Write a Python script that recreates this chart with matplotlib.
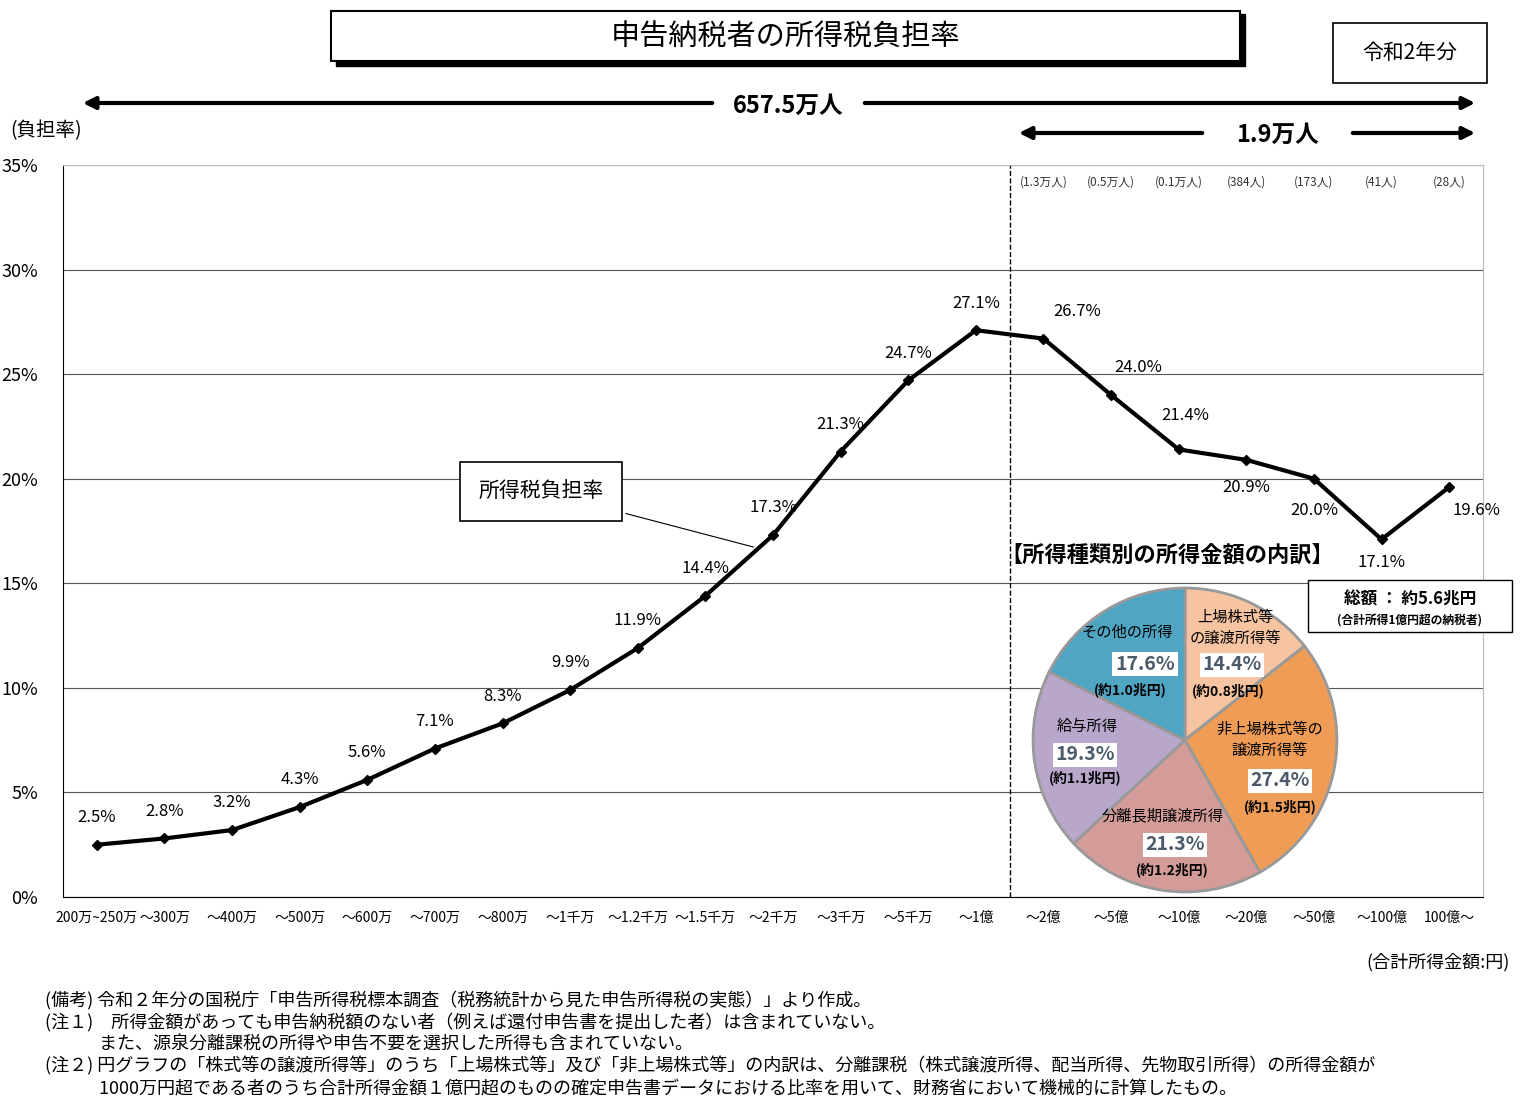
import matplotlib.pyplot as plt
from matplotlib.patches import Rectangle, FancyArrowPatch

plt.rcParams['font.family'] = ['Noto Sans CJK JP']

W, H = 1522, 1109

categories = ['200万~250万', '～300万', '～400万', '～500万', '～600万', '～700万', '～800万',
              '～1千万', '～1.2千万', '～1.5千万', '～2千万', '～3千万', '～5千万', '～1億',
              '～2億', '～5億', '～10億', '～20億', '～50億', '～100億', '100億～']
burden_rate = [2.5, 2.8, 3.2, 4.3, 5.6, 7.1, 8.3, 9.9, 11.9, 14.4, 17.3, 21.3, 24.7, 27.1,
               26.7, 24.0, 21.4, 20.9, 20.0, 17.1, 19.6]
counts = ['(1.3万人)', '(0.5万人)', '(0.1万人)', '(384人)', '(173人)', '(41人)', '(28人)']

pie_labels = ['上場株式等\nの譲渡所得等', '非上場株式等の\n譲渡所得等', '分離長期譲渡所得', '給与所得', 'その他の所得']
pie_shares = [14.4, 27.4, 21.3, 19.3, 17.6]
pie_amounts = ['(約0.8兆円)', '(約1.5兆円)', '(約1.2兆円)', '(約1.1兆円)', '(約1.0兆円)']
pie_colors = ['#F6C4A0', '#EE9C56', '#D39C98', '#B8A7CB', '#4FA5C2']


def fx(x):
    return x / W


def fy(y):
    return 1 - y / H


fig = plt.figure(figsize=(15.22, 11.09), dpi=100)
ax = fig.add_axes([fx(63), fy(897), (1483 - 63) / W, (897 - 165) / H])

x = list(range(len(categories)))
ax.plot(x, burden_rate, '-D', color='black', linewidth=3, markersize=5)
ax.set_xlim(-0.5, len(categories) - 0.5)
ax.set_ylim(0, 35)
ax.set_yticks(range(0, 36, 5))
ax.set_yticklabels([f'{v}%' for v in range(0, 36, 5)], fontsize=13)
ax.set_xticks(x)
ax.set_xticklabels(categories, fontsize=10)
ax.tick_params(axis='x', length=0, pad=10)
ax.tick_params(axis='y', length=0, pad=18)
ax.grid(axis='y', color='#555555', linewidth=0.8)
for s in ['top', 'right']:
    ax.spines[s].set_color('#bbbbbb')
ax.axvline(13.5, color='black', linestyle='--', linewidth=1)

offsets = {14: (0.5, 1.3), 15: (0.4, 1.3), 16: (0.1, 1.6), 17: (0, -1.3), 18: (0, -1.5),
           19: (0, -1.1), 20: (0.4, -1.1)}
for i, v in enumerate(burden_rate):
    dx, dy = offsets.get(i, (0, 1.3))
    ax.text(i + dx, v + dy, f'{v}%', ha='center', va='center', fontsize=12, zorder=5)

for i, c in enumerate(counts):
    ax.text(14 + i, 34.2, c, ha='center', va='center', fontsize=8.5, color='#333333')

# series label box
ax.annotate('所得税負担率', xy=(9.75, 16.7), xytext=(6.57, 19.4), fontsize=15,
            ha='center', va='center',
            bbox=dict(boxstyle='square,pad=0.9', fc='white', ec='black', lw=1.2),
            arrowprops=dict(arrowstyle='-', color='black', lw=0.8))

# title box
fig.patches.append(Rectangle((fx(336), fy(66)), (1245 - 336) / W, 52 / H, transform=fig.transFigure,
                             fc='black', ec='black'))
fig.patches.append(Rectangle((fx(331), fy(61)), (1240 - 331) / W, 50 / H, transform=fig.transFigure,
                             fc='white', ec='black', lw=1.5))
fig.text(fx(786), fy(37), '申告納税者の所得税負担率', fontsize=21, ha='center', va='center')
fig.patches.append(Rectangle((fx(1333), fy(83)), 154 / W, 60 / H, transform=fig.transFigure,
                             fc='white', ec='black', lw=1.2))
fig.text(fx(1410), fy(53), '令和2年分', fontsize=15, ha='center', va='center')

# population arrows
def arrow(x0, x1, y):
    fig.patches.append(FancyArrowPatch((fx(x0), fy(y)), (fx(x1), fy(y)), transform=fig.transFigure,
                                       arrowstyle='-|>', mutation_scale=18, lw=3, color='black'))

arrow(715, 80, 103)
arrow(862, 1478, 103)
fig.text(fx(788), fy(106), '657.5万人', fontsize=17, fontweight='bold', ha='center', va='center')
arrow(1205, 1016, 133)
arrow(1350, 1478, 133)
fig.text(fx(1277), fy(135), '1.9万人', fontsize=17, fontweight='bold', ha='center', va='center')

fig.text(fx(10), fy(131), '(負担率)', fontsize=14, ha='left', va='center')
fig.text(fx(1510), fy(962), '(合計所得金額:円)', fontsize=13, ha='right', va='center')

# pie chart
pax = fig.add_axes([fx(1030), fy(895), 310 / W, 310 / H])
pax.pie(pie_shares, colors=pie_colors, startangle=90, counterclock=False,
        wedgeprops=dict(edgecolor='#999999', linewidth=2))
pax.set_xlim(-1.02, 1.02)
pax.set_ylim(-1.02, 1.02)
pax.set_aspect('equal')

fig.text(fx(1167), fy(556), '【所得種類別の所得金額の内訳】', fontsize=16, fontweight='bold',
         ha='center', va='center')
fig.patches.append(Rectangle((fx(1308), fy(632)), 204 / W, 52 / H, transform=fig.transFigure,
                             fc='white', ec='black', lw=1))
fig.text(fx(1410), fy(600), '総額 ： 約5.6兆円', fontsize=12, fontweight='bold', ha='center', va='center')
fig.text(fx(1410), fy(620), '(合計所得1億円超の納税者)', fontsize=8.5, fontweight='bold', ha='center', va='center')

label_pos = [(1235, 628, 1232, 665, 1228, 691),
             (1270, 740, 1280, 781, 1280, 807),
             (1163, 816, 1175, 845, 1172, 870),
             (1087, 726, 1085, 755, 1085, 778),
             (1127, 632, 1145, 664, 1130, 690)]
for (lx, ly, px, py, ax_, ay), lab, sh, amt in zip(label_pos, pie_labels, pie_shares, pie_amounts):
    fig.text(fx(lx), fy(ly), lab, fontsize=11, ha='center', va='center', linespacing=1.3)
    fig.text(fx(px), fy(py), f'{sh}%', fontsize=14, fontweight='bold', color='#4a5a6a',
             ha='center', va='center', bbox=dict(fc='white', ec='none', pad=2))
    fig.text(fx(ax_), fy(ay), amt, fontsize=10, fontweight='bold', ha='center', va='center')

notes = ['(備考) 令和２年分の国税庁「申告所得税標本調査（税務統計から見た申告所得税の実態）」より作成。',
         '(注１)　所得金額があっても申告納税額のない者（例えば還付申告書を提出した者）は含まれていない。',
         '　　　また、源泉分離課税の所得や申告不要を選択した所得も含まれていない。',
         '(注２) 円グラフの「株式等の譲渡所得等」のうち「上場株式等」及び「非上場株式等」の内訳は、分離課税（株式譲渡所得、配当所得、先物取引所得）の所得金額が',
         '　　　1000万円超である者のうち合計所得金額１億円超のものの確定申告書データにおける比率を用いて、財務省において機械的に計算したもの。']
for i, n in enumerate(notes):
    fig.text(fx(45), fy(1000 + i * 22), n, fontsize=13, ha='left', va='center')

fig.savefig('out.png', dpi=100)
